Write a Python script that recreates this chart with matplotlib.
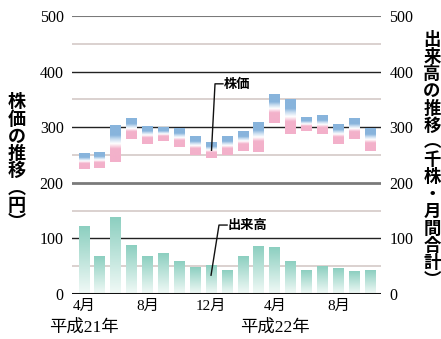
import matplotlib
matplotlib.use("Agg")
import matplotlib.pyplot as plt
import matplotlib.transforms as mtransforms
from matplotlib.colors import LinearSegmentedColormap
import numpy as np

# monthly data, Apr H21 .. Oct H22
price_low = [225, 227, 238, 279, 269, 275, 265, 250, 245, 250, 258, 256, 308, 287, 293, 288, 269, 279, 258]
price_high = [252, 254, 304, 315, 300, 299, 299, 284, 272, 283, 293, 309, 360, 349, 318, 322, 304, 315, 299]
volume = [122, 68, 137, 88, 68, 72, 58, 47, 52, 43, 68, 86, 83, 58, 42, 50, 45, 40, 43]
tick_idx = [0, 4, 8, 12, 16]
tick_labels = ["4月", "8月", "12月", "4月", "8月"]
year_idx = [0, 12]
year_labels = ["平成21年", "平成22年"]

serif = ["Liberation Serif", "Noto Sans CJK JP"]
gothic = ["Noto Sans CJK JP", "DejaVu Sans"]

price_cmap = LinearSegmentedColormap.from_list(
    "price", [(0.0, "#f3b0ca"), (0.36, "#f3b2cb"), (0.5, "#ffffff"),
              (0.62, "#c9ddf0"), (0.73, "#88b4dc"), (1.0, "#88b4dc")])
vol_cmap = LinearSegmentedColormap.from_list(
    "vol", [(0.0, "#f2faf7"), (1.0, "#8ccfc0")])
grad = np.linspace(0, 1, 256).reshape(-1, 1)

fig = plt.figure(figsize=(4.41, 3.39), dpi=100)
ax = fig.add_axes([72 / 441, 45 / 339, (381 - 72) / 441, (294 - 16) / 339])

w = 0.69
x = np.arange(len(volume))

# horizontal rules
for v in [50, 150, 250, 350, 450]:
    ax.axhline(v, color="#d8cecb", lw=1.3, zorder=1)
for v in [100, 300, 400]:
    ax.axhline(v, color="#222222", lw=1.0, zorder=1)
ax.axhline(200, color="#7a7a7a", lw=2.0, zorder=1)
ax.axhline(500, color="#7a7a7a", lw=1.5, zorder=1)

for i in x:
    ax.imshow(grad, cmap=price_cmap, origin="lower", aspect="auto", zorder=3,
              extent=[i - w / 2, i + w / 2, price_low[i], price_high[i]])
    ax.imshow(grad, cmap=vol_cmap, origin="lower", aspect="auto", zorder=3,
              extent=[i - w / 2, i + w / 2, 0, volume[i]])

ax.axhline(0, color="#111111", lw=2.2, zorder=4)

ax.set_xlim(-0.755, 18.68)
ax.set_ylim(0, 500)
for s in ax.spines.values():
    s.set_visible(False)

ax.set_yticks(range(0, 501, 100))
ax.set_yticklabels([str(v) for v in range(0, 501, 100)], family=serif, fontsize=11.5)
ax.tick_params(axis="y", length=0, pad=6)
ax.set_xticks(tick_idx)
ax.set_xticklabels(tick_labels, family=serif, fontsize=11)
ax.tick_params(axis="x", length=0, pad=4)

ax2 = ax.twinx()
ax2.set_ylim(0, 500)
for s in ax2.spines.values():
    s.set_visible(False)
ax2.set_yticks(range(0, 501, 100))
ax2.set_yticklabels([str(v) for v in range(0, 501, 100)], family=serif, fontsize=11.5)
ax2.tick_params(axis="y", length=0, pad=6)

# year labels
trans = mtransforms.blended_transform_factory(ax.transData, fig.transFigure)
for xi, lab in zip(year_idx, year_labels):
    ax.text(xi, 0.034, lab, transform=trans, ha="center", va="center",
            family=serif, fontsize=12.5)

# vertical axis titles
left_title = "株価の推移︵円︶"
right_title = "出来高の推移︵千株・月間合計︶"
fig.text(17 / 441, 1 - 162 / 339, "\n".join(left_title), ha="center", va="center",
         family=gothic, fontsize=13, weight="bold", linespacing=0.88)
fig.text(432 / 441, 1 - 160 / 339, "\n".join(right_title), ha="center", va="center",
         family=gothic, fontsize=12.5, weight="bold", linespacing=0.94)

# callouts
mid = (price_low[8] + price_high[8]) / 2
ax.plot([8.02, 8.24, 8.74], [mid, 378, 378], color="#111111", lw=1.0, zorder=5)
ax.text(8.8, 378, "株価", ha="left", va="center", family=gothic,
        fontsize=9.5, weight="bold", zorder=5)
ax.plot([7.99, 8.49, 9.0], [volume[8] * 0.65, 124, 124], color="#111111", lw=1.0, zorder=5)
ax.text(9.05, 124, "出来高", ha="left", va="center", family=gothic,
        fontsize=9.5, weight="bold", zorder=5)

fig.savefig("out.png", dpi=100)
